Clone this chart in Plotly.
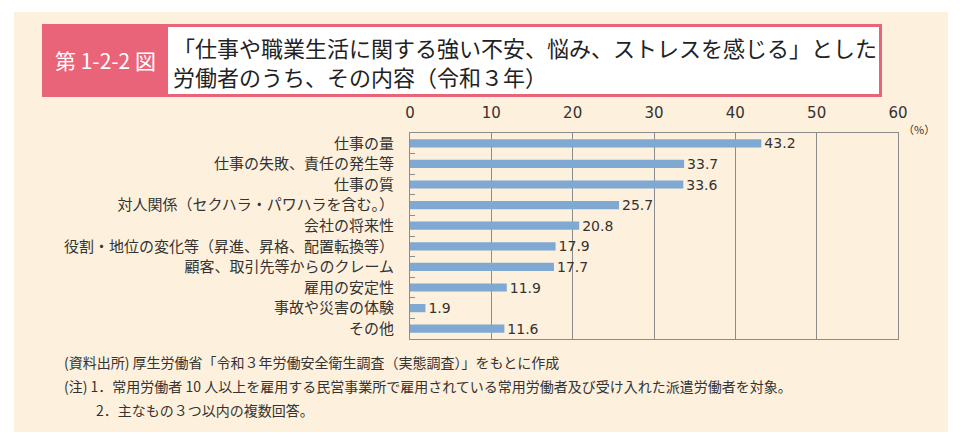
import plotly.graph_objects as go

categories = [
    "仕事の量",
    "仕事の失敗、責任の発生等",
    "仕事の質",
    "対人関係（セクハラ・パワハラを含む。）",
    "会社の将来性",
    "役割・地位の変化等（昇進、昇格、配置転換等）",
    "顧客、取引先等からのクレーム",
    "雇用の安定性",
    "事故や災害の体験",
    "その他",
]
values = [43.2, 33.7, 33.6, 25.7, 20.8, 17.9, 17.7, 11.9, 1.9, 11.6]
x_ticks = [0, 10, 20, 30, 40, 50, 60]

JP = "Noto Sans CJK JP"
PINK = "#ea6479"
CREAM = "#fdf0dc"
BAR = "#7fa8d3"

W, H = 961, 442
ML, MR, MT, MB = 410, 63, 133, 103

fig = go.Figure()
fig.add_trace(go.Bar(
    y=categories, x=values, orientation="h",
    marker=dict(color=BAR, line=dict(width=0)),
    text=[f"{v:.1f}" for v in values],
    textposition="outside",
    constraintext="none",
    textfont=dict(family="DejaVu Sans", size=14, color="#333333"),
    cliponaxis=False,
    width=0.4,
))

fig.update_layout(
    width=W, height=H,
    margin=dict(l=ML, r=MR, t=MT, b=MB, autoexpand=False),
    paper_bgcolor="white",
    plot_bgcolor="white",
    showlegend=False,
    font=dict(family=JP, color="#333333"),
    xaxis=dict(
        side="top", range=[0, 60], tickvals=x_ticks,
        showgrid=True, gridcolor="#8c8c8c", gridwidth=1,
        showline=True, linecolor="#8c8c8c", mirror=True,
        ticks="", zeroline=False,
        tickfont=dict(family="DejaVu Sans", size=15, color="#333333"),
        ticklabelstandoff=8,
    ),
    yaxis=dict(
        autorange="reversed",
        showline=True, linecolor="#8c8c8c", mirror=True,
        ticks="inside", ticklen=5, tickcolor="#8c8c8c", tickson="boundaries",
        tickfont=dict(family=JP, size=15, color="#333333"),
        ticklabelstandoff=12,
        showgrid=False,
    ),
)

pw = W - ML - MR
ph = H - MT - MB


def px(xpix):
    return (xpix - ML) / pw


def py(ypix):
    return (H - MB - ypix) / ph


shapes = [
    dict(type="rect", xref="paper", yref="paper",
         x0=px(14), x1=px(948), y0=py(432), y1=py(12),
         layer="below", line=dict(width=0), fillcolor=CREAM),
    dict(type="rect", xref="paper", yref="paper",
         x0=px(42), x1=px(882), y0=py(97), y1=py(24),
         layer="below", line=dict(width=0), fillcolor=PINK),
    dict(type="rect", xref="paper", yref="paper",
         x0=px(168), x1=px(879), y0=py(94), y1=py(27),
         layer="below", line=dict(width=0), fillcolor="white"),
]
fig.update_layout(shapes=shapes)

annotations = [
    dict(text="第 1-2-2 図", xref="paper", yref="paper", x=px(105), y=py(60),
         xanchor="center", yanchor="middle", showarrow=False,
         font=dict(family=JP, size=21, color="white")),
    dict(text="「仕事や職業生活に関する強い不安、悩み、ストレスを感じる」とした",
         xref="paper", yref="paper", x=px(171), y=py(47),
         xanchor="left", yanchor="middle", showarrow=False,
         font=dict(family=JP, size=22, color="#222222")),
    dict(text="労働者のうち、その内容（令和３年）",
         xref="paper", yref="paper", x=px(171), y=py(76),
         xanchor="left", yanchor="middle", showarrow=False,
         font=dict(family=JP, size=22, color="#222222")),
    dict(text="（%）", xref="paper", yref="paper", x=px(901), y=py(129),
         xanchor="left", yanchor="middle", showarrow=False,
         font=dict(family=JP, size=11, color="#333333")),
    dict(text="(資料出所) 厚生労働省「令和３年労働安全衛生調査（実態調査）」をもとに作成",
         xref="paper", yref="paper", x=px(62), y=py(362),
         xanchor="left", yanchor="middle", showarrow=False,
         font=dict(family=JP, size=14, color="#333333")),
    dict(text="(注) 1．常用労働者 10 人以上を雇用する民営事業所で雇用されている常用労働者及び受け入れた派遣労働者を対象。",
         xref="paper", yref="paper", x=px(62), y=py(386),
         xanchor="left", yanchor="middle", showarrow=False,
         font=dict(family=JP, size=14, color="#333333")),
    dict(text="2．主なもの３つ以内の複数回答。",
         xref="paper", yref="paper", x=px(94), y=py(410),
         xanchor="left", yanchor="middle", showarrow=False,
         font=dict(family=JP, size=14, color="#333333")),
]
fig.update_layout(annotations=annotations)

fig.write_html("out.html", config={"displayModeBar": False},
               post_script="document.body.style.margin='0px';")
